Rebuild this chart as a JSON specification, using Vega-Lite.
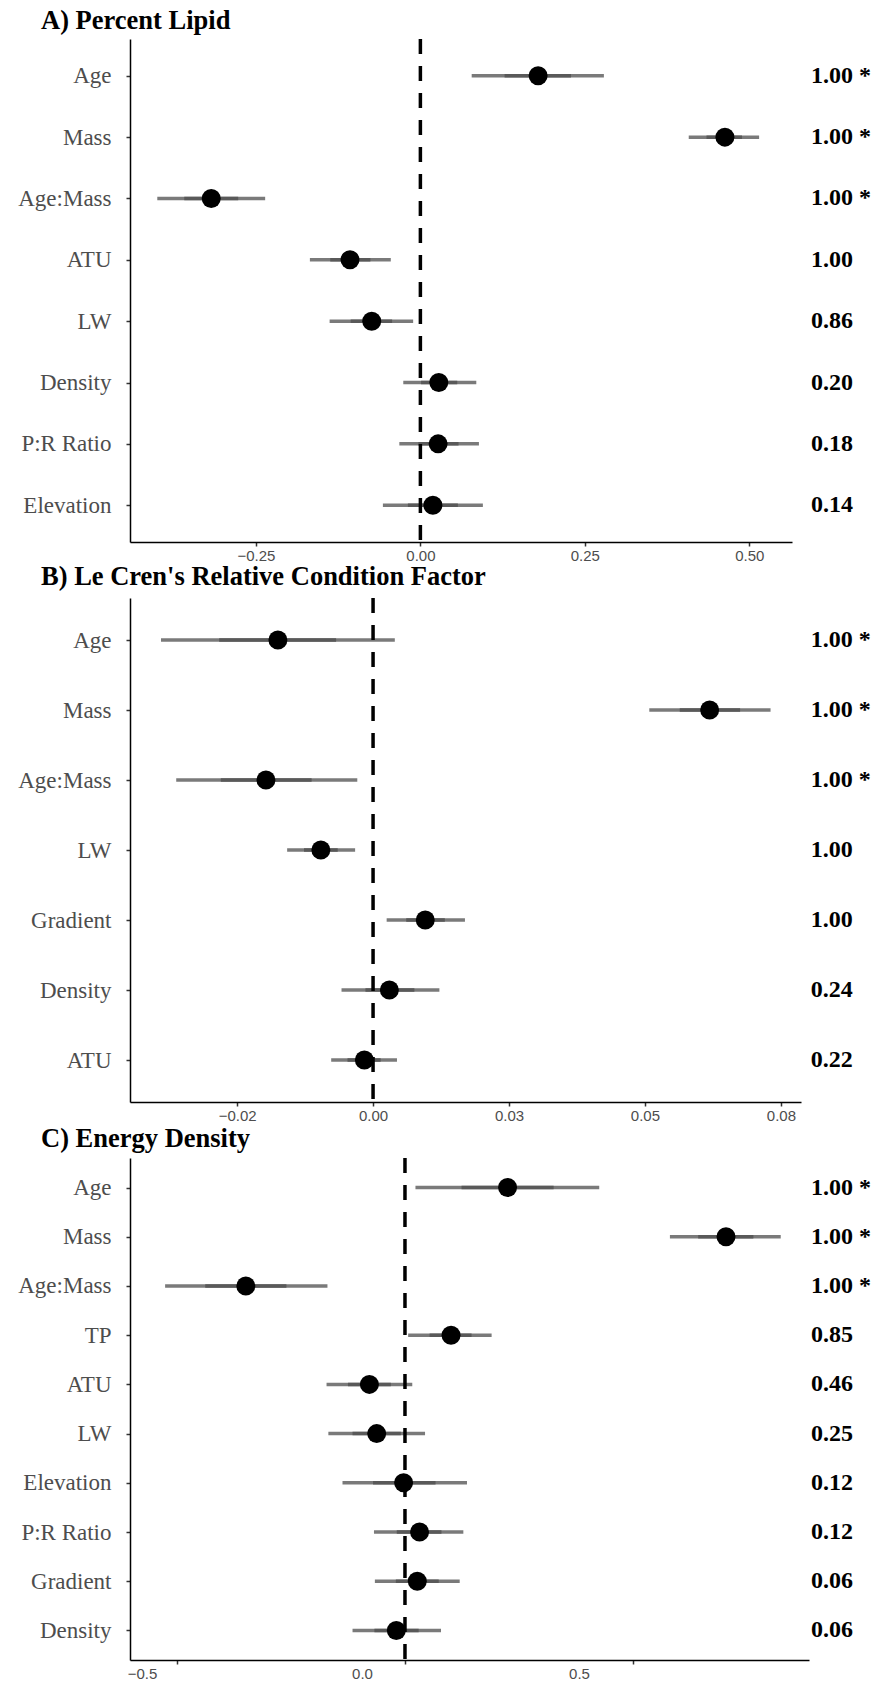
{
  "$schema": "https://vega.github.io/schema/vega-lite/v6.json",
  "padding": {"left": 17, "top": 7, "right": 2, "bottom": 0},
  "background": "white",
  "config": {
    "view": {"stroke": null},
    "axis": {"grid": false, "domainColor": "black", "domainWidth": 1.5, "tickColor": "#333333", "tickWidth": 1.5, "tickSize": 4, "title": null},
    "axisY": {"labelFont": "Liberation Serif", "labelFontSize": 23, "labelColor": "#4d4d4d", "labelPadding": 15},
    "axisX": {"labelFont": "Liberation Sans", "labelFontSize": 15, "labelColor": "#4d4d4d", "labelPadding": 2},
    "title": {"font": "Liberation Serif", "fontSize": 26.5, "fontWeight": "bold", "color": "black", "anchor": "start", "frame": "group", "baseline": "alphabetic"}
  },
  "datasets": {
    "lipid": [
      {"term": "Age", "est": 0.179, "lo": 0.078, "hi": 0.279, "ilo": 0.128, "ihi": 0.229, "weight": "1.00 *"},
      {"term": "Mass", "est": 0.463, "lo": 0.408, "hi": 0.515, "ilo": 0.435, "ihi": 0.489, "weight": "1.00 *"},
      {"term": "Age:Mass", "est": -0.318, "lo": -0.400, "hi": -0.236, "ilo": -0.359, "ihi": -0.277, "weight": "1.00 *"},
      {"term": "ATU", "est": -0.107, "lo": -0.168, "hi": -0.045, "ilo": -0.137, "ihi": -0.076, "weight": "1.00"},
      {"term": "LW", "est": -0.074, "lo": -0.138, "hi": -0.011, "ilo": -0.106, "ihi": -0.043, "weight": "0.86"},
      {"term": "Density", "est": 0.028, "lo": -0.026, "hi": 0.085, "ilo": 0.001, "ihi": 0.056, "weight": "0.20"},
      {"term": "P:R Ratio", "est": 0.027, "lo": -0.032, "hi": 0.089, "ilo": -0.003, "ihi": 0.058, "weight": "0.18"},
      {"term": "Elevation", "est": 0.019, "lo": -0.057, "hi": 0.095, "ilo": -0.019, "ihi": 0.057, "weight": "0.14"}
    ],
    "condition": [
      {"term": "Age", "est": -0.0175, "lo": -0.0390, "hi": 0.0040, "ilo": -0.0283, "ihi": -0.0068, "weight": "1.00 *"},
      {"term": "Mass", "est": 0.0619, "lo": 0.0508, "hi": 0.0731, "ilo": 0.0564, "ihi": 0.0675, "weight": "1.00 *"},
      {"term": "Age:Mass", "est": -0.0197, "lo": -0.0362, "hi": -0.0029, "ilo": -0.0280, "ihi": -0.0113, "weight": "1.00 *"},
      {"term": "LW", "est": -0.0096, "lo": -0.0158, "hi": -0.0033, "ilo": -0.0127, "ihi": -0.0065, "weight": "1.00"},
      {"term": "Gradient", "est": 0.0096, "lo": 0.0025, "hi": 0.0169, "ilo": 0.0061, "ihi": 0.0132, "weight": "1.00"},
      {"term": "Density", "est": 0.0030, "lo": -0.0058, "hi": 0.0122, "ilo": -0.0014, "ihi": 0.0076, "weight": "0.24"},
      {"term": "ATU", "est": -0.0016, "lo": -0.0077, "hi": 0.0044, "ilo": -0.0047, "ihi": 0.0014, "weight": "0.22"}
    ],
    "energy": [
      {"term": "Age", "est": 0.225, "lo": 0.023, "hi": 0.426, "ilo": 0.124, "ihi": 0.326, "weight": "1.00 *"},
      {"term": "Mass", "est": 0.704, "lo": 0.581, "hi": 0.824, "ilo": 0.643, "ihi": 0.764, "weight": "1.00 *"},
      {"term": "Age:Mass", "est": -0.349, "lo": -0.526, "hi": -0.170, "ilo": -0.438, "ihi": -0.260, "weight": "1.00 *"},
      {"term": "TP", "est": 0.101, "lo": 0.007, "hi": 0.190, "ilo": 0.054, "ihi": 0.146, "weight": "0.85"},
      {"term": "ATU", "est": -0.078, "lo": -0.172, "hi": 0.016, "ilo": -0.125, "ihi": -0.031, "weight": "0.46"},
      {"term": "LW", "est": -0.062, "lo": -0.168, "hi": 0.044, "ilo": -0.115, "ihi": -0.009, "weight": "0.25"},
      {"term": "Elevation", "est": -0.003, "lo": -0.137, "hi": 0.136, "ilo": -0.070, "ihi": 0.067, "weight": "0.12"},
      {"term": "P:R Ratio", "est": 0.032, "lo": -0.068, "hi": 0.128, "ilo": -0.018, "ihi": 0.080, "weight": "0.12"},
      {"term": "Gradient", "est": 0.027, "lo": -0.066, "hi": 0.120, "ilo": -0.020, "ihi": 0.074, "weight": "0.06"},
      {"term": "Density", "est": -0.019, "lo": -0.115, "hi": 0.079, "ilo": -0.067, "ihi": 0.030, "weight": "0.06"}
    ]
  },
  "spacing": 56,
  "bounds": "flush",
  "vconcat": [
    {
      "title": {"text": "A) Percent Lipid", "dx": -89, "offset": 3},
      "width": 662,
      "height": 503,
      "data": {"name": "lipid"},
      "encoding": {
        "y": {"field": "term", "type": "nominal", "sort": null, "scale": {"type": "point", "padding": 0.6}}
      },
      "layer": [
        {
          "mark": {"type": "rule", "strokeWidth": 3.5, "color": "#7a7a7a"},
          "encoding": {
            "x": {"field": "lo", "type": "quantitative", "scale": {"domain": [-0.4415, 0.565], "nice": false, "zero": false}, "axis": {"values": [-0.25, 0, 0.25, 0.5], "format": ".2f"}},
            "x2": {"field": "hi"}
          }
        },
        {
          "mark": {"type": "rule", "strokeWidth": 3.5, "color": "#595959"},
          "encoding": {"x": {"field": "ilo", "type": "quantitative"}, "x2": {"field": "ihi"}}
        },
        {
          "data": {"values": [{"zero": 0}]},
          "mark": {"type": "rule", "strokeWidth": 3.5, "color": "black", "strokeDash": [15, 12]},
          "encoding": {"x": {"field": "zero", "type": "quantitative"}, "y": null}
        },
        {
          "mark": {"type": "point", "filled": true, "color": "black", "opacity": 1, "size": 360},
          "encoding": {"x": {"field": "est", "type": "quantitative"}}
        },
        {
          "mark": {"type": "text", "align": "left", "baseline": "middle", "font": "Liberation Serif", "fontSize": 24, "fontWeight": "bold", "color": "black"},
          "encoding": {"x": {"datum": 0.5939, "type": "quantitative"}, "text": {"field": "weight"}}
        }
      ]
    },
    {
      "title": {"text": "B) Le Cren's Relative Condition Factor", "dx": -89, "offset": 6},
      "width": 671,
      "height": 504,
      "data": {"name": "condition"},
      "encoding": {
        "y": {"field": "term", "type": "nominal", "sort": null, "scale": {"type": "point", "padding": 0.6}}
      },
      "layer": [
        {
          "mark": {"type": "rule", "strokeWidth": 3.5, "color": "#7a7a7a"},
          "encoding": {
            "x": {"field": "lo", "type": "quantitative", "scale": {"domain": [-0.0447, 0.0787], "nice": false, "zero": false}, "axis": {"values": [-0.025, 0, 0.025, 0.05, 0.075], "labelExpr": "datum.value < -0.01 ? '\u22120.02' : datum.value < 0.01 ? '0.00' : datum.value < 0.04 ? '0.03' : datum.value < 0.06 ? '0.05' : '0.08'"}},
            "x2": {"field": "hi"}
          }
        },
        {
          "mark": {"type": "rule", "strokeWidth": 3.5, "color": "#595959"},
          "encoding": {"x": {"field": "ilo", "type": "quantitative"}, "x2": {"field": "ihi"}}
        },
        {
          "data": {"values": [{"zero": 0}]},
          "mark": {"type": "rule", "strokeWidth": 3.5, "color": "black", "strokeDash": [15, 12]},
          "encoding": {"x": {"field": "zero", "type": "quantitative"}, "y": null}
        },
        {
          "mark": {"type": "point", "filled": true, "color": "black", "opacity": 1, "size": 360},
          "encoding": {"x": {"field": "est", "type": "quantitative"}}
        },
        {
          "mark": {"type": "text", "align": "left", "baseline": "middle", "font": "Liberation Serif", "fontSize": 24, "fontWeight": "bold", "color": "black"},
          "encoding": {"x": {"datum": 0.0805, "type": "quantitative"}, "text": {"field": "weight"}}
        }
      ]
    },
    {
      "title": {"text": "C) Energy Density", "dx": -89, "offset": 3.5},
      "width": 679,
      "height": 502,
      "data": {"name": "energy"},
      "encoding": {
        "y": {"field": "term", "type": "nominal", "sort": null, "scale": {"type": "point", "padding": 0.6}}
      },
      "layer": [
        {
          "mark": {"type": "rule", "strokeWidth": 3.5, "color": "#7a7a7a"},
          "encoding": {
            "x": {"field": "lo", "type": "quantitative", "scale": {"domain": [-0.603, 0.886], "nice": false, "zero": false}, "axis": {"values": [-0.5, 0, 0.5], "format": ".1f", "labelOffset": {"condition": [{"test": "datum.value < -0.25", "value": -35}, {"test": "datum.value < 0.25", "value": -43}], "value": -54}}},
            "x2": {"field": "hi"}
          }
        },
        {
          "mark": {"type": "rule", "strokeWidth": 3.5, "color": "#595959"},
          "encoding": {"x": {"field": "ilo", "type": "quantitative"}, "x2": {"field": "ihi"}}
        },
        {
          "data": {"values": [{"zero": 0}]},
          "mark": {"type": "rule", "strokeWidth": 3.5, "color": "black", "strokeDash": [15, 12]},
          "encoding": {"x": {"field": "zero", "type": "quantitative"}, "y": null}
        },
        {
          "mark": {"type": "point", "filled": true, "color": "black", "opacity": 1, "size": 360},
          "encoding": {"x": {"field": "est", "type": "quantitative"}}
        },
        {
          "mark": {"type": "text", "align": "left", "baseline": "middle", "font": "Liberation Serif", "fontSize": 24, "fontWeight": "bold", "color": "black"},
          "encoding": {"x": {"datum": 0.8904, "type": "quantitative"}, "text": {"field": "weight"}}
        }
      ]
    }
  ]
}
